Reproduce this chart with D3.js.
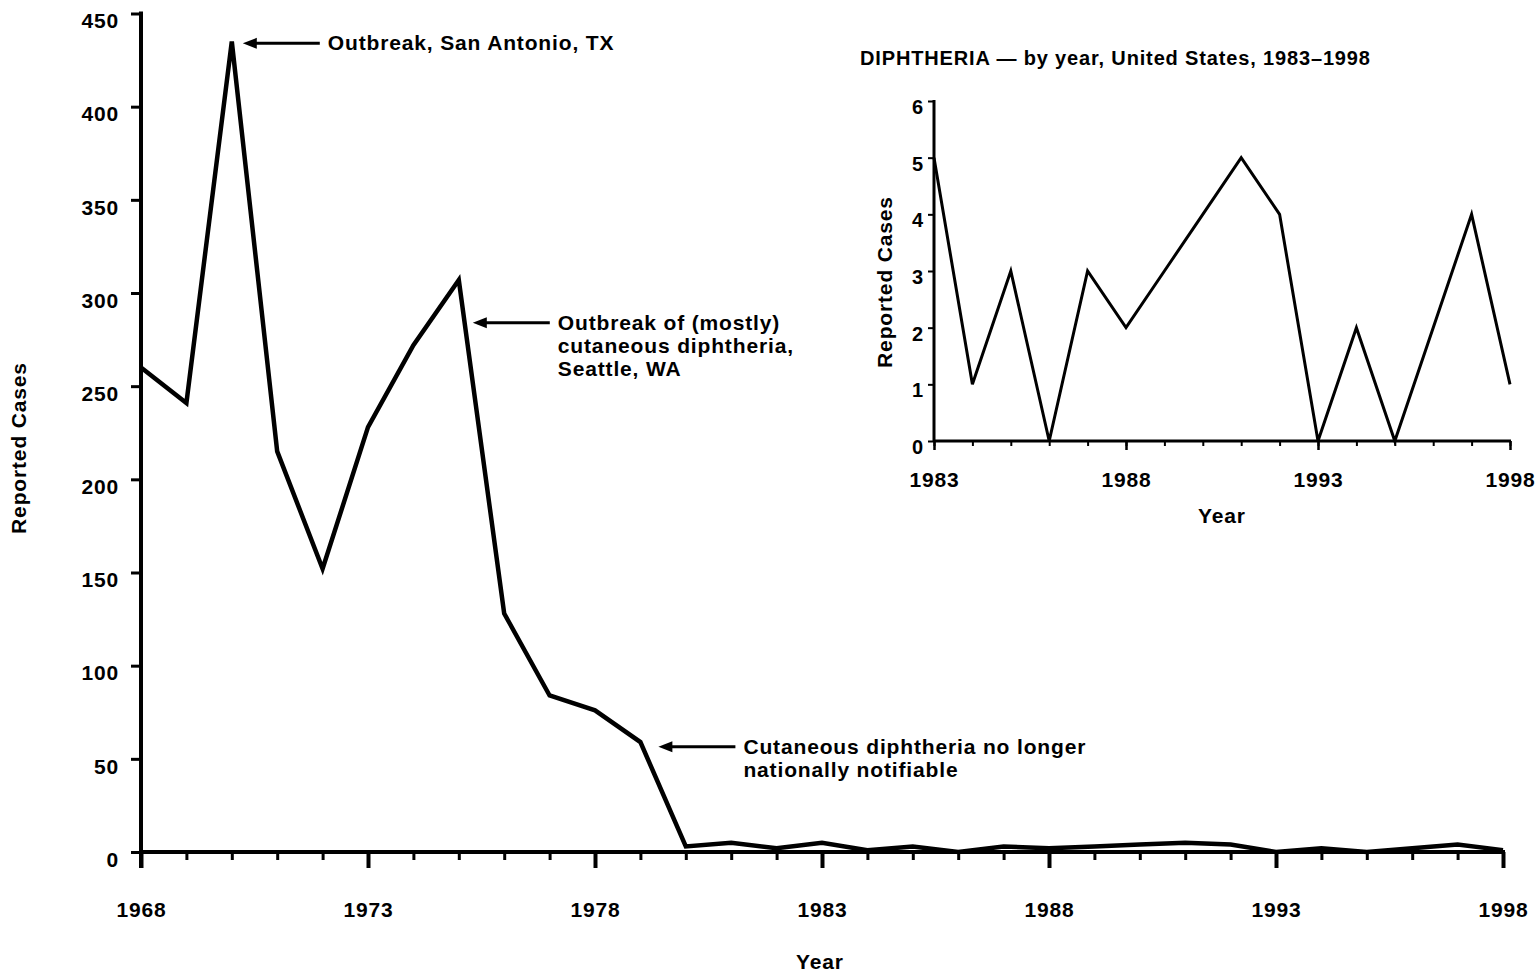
<!DOCTYPE html>
<html>
<head>
<meta charset="utf-8">
<script src="https://cdn.jsdelivr.net/npm/d3@7"></script>
<style>
    body { margin: 0; background: #fff; }
    svg text { font-family: "Liberation Sans", Arial, sans-serif; font-weight: bold; fill: #000; font-size: 21px; letter-spacing: 0.85px; }
    .axis path, .axis line { stroke: #000; }
</style>
</head>
<body>
<svg id="chart" width="1540" height="975"></svg>
<script>
// main series 1968-1998
const years = d3.range(1968, 1999);
const cases = [260, 241, 435, 215, 152, 228, 272, 307, 128, 84, 76, 59,
    3, 5, 2, 5, 1, 3, 0, 3, 2, 3, 4, 5, 4, 0, 2, 0, 2, 4, 1];
const yTicksMain = [0, 50, 100, 150, 200, 250, 300, 350, 400, 450];
const xLabelsMain = [1968, 1973, 1978, 1983, 1988, 1993, 1998];

// inset series 1983-1998
const insetYears = d3.range(1983, 1999);
const insetCases = [5, 1, 3, 0, 3, 2, 3, 4, 5, 4, 0, 2, 0, 2, 4, 1];
const yTicksInset = [0, 1, 2, 3, 4, 5, 6];
const xLabelsInset = [1983, 1988, 1993, 1998];

const notes = [
    { year: 1970, value: 434, dx: 11, lines: ["Outbreak, San Antonio, TX"] },
    { year: 1975, value: 284, dx: 14, lines: ["Outbreak of (mostly)", "cutaneous diphtheria,", "Seattle, WA"] },
    { year: 1979, value: 56.5, dx: 18, lines: ["Cutaneous diphtheria no longer", "nationally notifiable"] }
];

const svg = d3.select("#chart");

// ---------- main chart ----------
const x = d3.scaleLinear().domain([1968, 1998]).range([141, 1503]);
const y = d3.scaleLinear().domain([0, 450]).range([852, 13.5]);

const line = d3.line()
    .x((d, i) => x(years[i]))
    .y(d => y(d));

svg.append("path")
    .datum(cases)
    .attr("d", line)
    .attr("fill", "none")
    .attr("stroke", "#000")
    .attr("stroke-width", 4.5)
    .attr("stroke-linejoin", "miter");

// minor x ticks
svg.append("g")
    .attr("class", "axis")
    .attr("transform", `translate(0,${y(0)})`)
    .call(d3.axisBottom(x).tickValues(years).tickSize(8).tickFormat(""))
    .call(g => g.selectAll("line").attr("stroke-width", 3))
    .call(g => g.select(".domain").remove());

// major x ticks + labels
svg.append("g")
    .attr("class", "axis")
    .attr("transform", `translate(0,${y(0)})`)
    .call(d3.axisBottom(x).tickValues(xLabelsMain).tickSize(16).tickFormat(d3.format("d")))
    .call(g => g.select(".domain").remove())
    .call(g => g.selectAll("line").attr("stroke-width", 4))
    .call(g => g.selectAll("text").attr("y", 65).attr("dy", 0).style("font-size", "21px"));

svg.append("line")
    .attr("x1", x(1968) - 2).attr("x2", x(1998) + 2)
    .attr("y1", y(0)).attr("y2", y(0))
    .attr("stroke", "#000").attr("stroke-width", 4);

// y axis (labels sit just below their ticks, as in the source)
svg.append("g")
    .attr("class", "axis")
    .attr("transform", `translate(${x(1968)},0)`)
    .call(d3.axisLeft(y).tickValues(yTicksMain).tickSize(10).tickPadding(12))
    .call(g => g.select(".domain").attr("stroke-width", 4).attr("d", `M0,${y(0) + 16}V${y(450) - 2}`))
    .call(g => g.selectAll("line").attr("stroke-width", 3))
    .call(g => g.selectAll("text").attr("dy", "0.68em").style("font-size", "21px"));

svg.append("text")
    .attr("x", 820).attr("y", 969)
    .attr("text-anchor", "middle")
    .text("Year");

svg.append("text")
    .attr("transform", "translate(26,448) rotate(-90)")
    .attr("text-anchor", "middle")
    .text("Reported Cases");

// annotations
notes.forEach(n => {
    const tipX = x(n.year) + n.dx;
    const ay = y(n.value);
    const g = svg.append("g");
    g.append("line")
        .attr("x1", tipX + 10).attr("x2", tipX + 77)
        .attr("y1", ay).attr("y2", ay)
        .attr("stroke", "#000").attr("stroke-width", 3);
    g.append("path")
        .attr("d", `M${tipX},${ay}L${tipX + 14},${ay - 5.5}L${tipX + 14},${ay + 5.5}Z`)
        .attr("fill", "#000");
    const t = g.append("text")
        .attr("x", tipX + 85)
        .attr("y", ay + 7);
    n.lines.forEach((l, i) => {
        t.append("tspan").attr("x", tipX + 85).attr("dy", i === 0 ? 0 : 23).text(l);
    });
});

// ---------- inset ----------
const ix = d3.scaleLinear().domain([1983, 1998]).range([934, 1510]);
const iy = d3.scaleLinear().domain([0, 6]).range([441, 101]);

svg.append("text")
    .attr("x", 860).attr("y", 65)
    .style("font-size", "20px")
    .text("DIPHTHERIA \u2014 by year, United States, 1983\u20131998");

svg.append("path")
    .datum(insetCases)
    .attr("d", d3.line().x((d, i) => ix(insetYears[i])).y(d => iy(d)))
    .attr("fill", "none")
    .attr("stroke", "#000")
    .attr("stroke-width", 3);

svg.append("g")
    .attr("class", "axis")
    .attr("transform", `translate(0,${iy(0)})`)
    .call(d3.axisBottom(ix).tickValues(insetYears).tickSize(5).tickFormat(""))
    .call(g => g.selectAll("line").attr("stroke-width", 2))
    .call(g => g.select(".domain").remove());

svg.append("g")
    .attr("class", "axis")
    .attr("transform", `translate(0,${iy(0)})`)
    .call(d3.axisBottom(ix).tickValues(xLabelsInset).tickSize(9).tickFormat(d3.format("d")))
    .call(g => g.select(".domain").remove())
    .call(g => g.selectAll("line").attr("stroke-width", 2.5))
    .call(g => g.selectAll("text").attr("y", 46).attr("dy", 0).style("font-size", "21px"));

svg.append("line")
    .attr("x1", ix(1983)).attr("x2", ix(1998) + 1)
    .attr("y1", iy(0)).attr("y2", iy(0))
    .attr("stroke", "#000").attr("stroke-width", 3);

svg.append("g")
    .attr("class", "axis")
    .attr("transform", `translate(${ix(1983)},0)`)
    .call(d3.axisLeft(iy).tickValues(yTicksInset).tickSize(6).tickPadding(4).tickFormat(d3.format("d")))
    .call(g => g.select(".domain").attr("stroke-width", 3).attr("d", `M0,${iy(0)}V${iy(6) - 1}`))
    .call(g => g.selectAll("line").attr("stroke-width", 2))
    .call(g => g.selectAll("text").attr("dy", "0.62em").style("font-size", "20px"));

svg.append("text")
    .attr("x", 1222).attr("y", 523)
    .attr("text-anchor", "middle")
    .text("Year");

svg.append("text")
    .attr("transform", "translate(892,282) rotate(-90)")
    .attr("text-anchor", "middle")
    .text("Reported Cases");
</script>
</body>
</html>
